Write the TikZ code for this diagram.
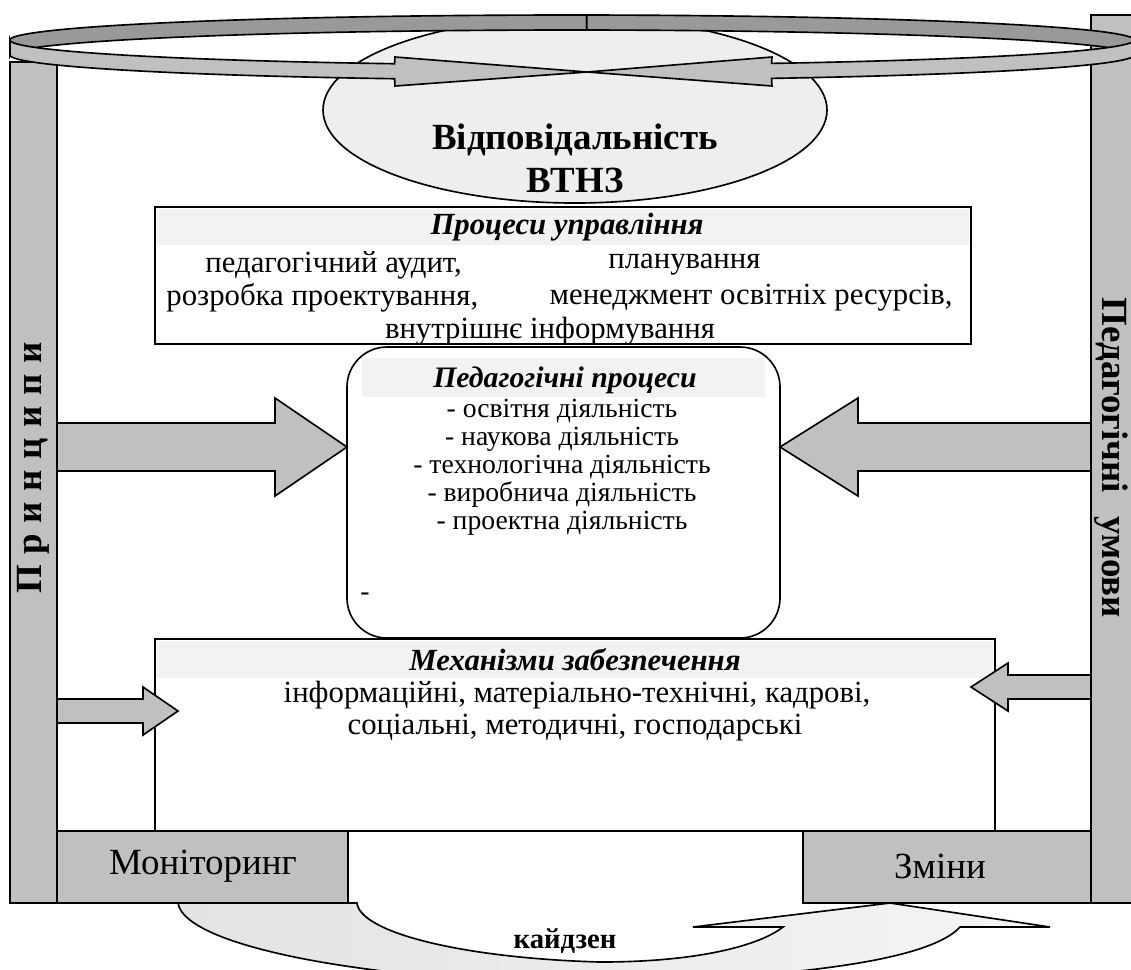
\documentclass[tikz,border=0pt]{standalone}
\usepackage{fontspec}
\setmainfont{Liberation Serif}
\definecolor{pillargray}{HTML}{C0C0C0}
\definecolor{ringdark}{HTML}{999999}
\definecolor{headgray}{HTML}{F2F2F2}
\definecolor{ovalgray}{HTML}{EEEEEE}
\newcommand\lsp{\kern5.2pt}
\begin{document}
\begin{tikzpicture}[x=0.4878pt, y=-0.4878pt,
  outline/.style={draw=black, line width=0.8pt, line join=miter},
  pillar/.style={outline, fill=pillargray},
  bigtxt/.style={font=\fontsize{18}{20}\selectfont\bfseries, inner sep=0pt},
  bodytxt/.style={font=\fontsize{15}{17}\selectfont, inner sep=0pt},
  smalltxt/.style={font=\fontsize{13.5}{15}\selectfont, inner sep=0pt},
  headtxt/.style={font=\fontsize{15}{17}\selectfont\bfseries\itshape, inner sep=0pt}]
\path[use as bounding box, clip] (0,0) rectangle (1131,969);
\draw[outline, fill=ovalgray] (575,110) ellipse [x radius=252, y radius=93];
\node[bigtxt] (resp) at (575,140) {Відповідальність};
\node[bigtxt] (vtnz) at (575,180) {ВТНЗ};
\draw[pillar] (1091,15) rectangle (1145,903);
\draw[pillar] (10,62) rectangle (57,903);
\draw[outline, fill=ringdark] plot[domain=180:271.5, samples=50] ({572+562*cos(\x)},{40+25*sin(\x)})
  -- plot[domain=271.5:180, samples=50] ({572+562*cos(\x)},{55+25*sin(\x)}) -- cycle;
\draw[outline, fill=ringdark] plot[domain=271.5:360, samples=50] ({572+562*cos(\x)},{40+25*sin(\x)})
  -- plot[domain=360:271.5, samples=50] ({572+562*cos(\x)},{55+25*sin(\x)}) -- cycle;
\draw[outline, fill=pillargray] plot[domain=180:108.4, samples=50] ({572+562*cos(\x)},{40+25*sin(\x)})
  -- (395,57) -- (587,72) -- (395,86)
  -- plot[domain=108.4:180, samples=50] ({572+562*cos(\x)},{55+25*sin(\x)}) -- cycle;
\draw[outline, fill=pillargray] plot[domain=0:69.2, samples=50] ({572+562*cos(\x)},{40+25*sin(\x)})
  -- (772,57) -- (587,72) -- (772,86)
  -- plot[domain=69.2:0, samples=50] ({572+562*cos(\x)},{55+25*sin(\x)}) -- cycle;
\draw[outline, fill=white] (155,207) rectangle (971,344);
\fill[headgray] (157,209) rectangle (969,245);
\node[headtxt] (mgmt) at (567,227) {Процеси управління};
\node[bodytxt, anchor=west] (audit) at (205,265) {педагогічний аудит,};
\node[bodytxt, anchor=west] (plan) at (608,265) {планування};
\node[bodytxt, anchor=west] (design) at (166,298) {розробка проектування,};
\node[bodytxt, anchor=east] (resources) at (953,298) {менеджмент освітніх ресурсів,};
\node[bodytxt] (inform) at (550,331) {внутрішнє інформування};
\draw[outline, fill=white, rounded corners=19.5pt] (347,347) rectangle (780,638);
\fill[headgray] (362,358) rectangle (765,397);
\node[headtxt, font=\fontsize{14.5}{16}\selectfont\bfseries\itshape] (pedproc) at (565,380) {Педагогічні процеси};
\node[smalltxt] (act1) at (562,411) {- освітня діяльність};
\node[smalltxt] (act2) at (562,439) {- наукова діяльність};
\node[smalltxt] (act3) at (562,467) {- технологічна діяльність};
\node[smalltxt] (act4) at (562,495) {- виробнича діяльність};
\node[smalltxt] (act5) at (562,523) {- проектна діяльність};
\node[smalltxt, anchor=west] (act6) at (360,597) {-};
\draw[outline, fill=white] (155,639) rectangle (995,831);
\fill[headgray] (157,641) rectangle (993,678);
\node[headtxt] (mech) at (575,660) {Механізми забезпечення};
\node[bodytxt] (mech1) at (577,695) {інформаційні, матеріально-технічні, кадрові,};
\node[bodytxt] (mech2) at (575,728) {соціальні, методичні, господарські};
\draw[pillar] (57,831) rectangle (348,903);
\node[bodytxt, font=\fontsize{18}{20}\selectfont] (monitor) at (203,866) {Моніторинг};
\draw[pillar] (803,831) rectangle (1091,903);
\node[bodytxt, font=\fontsize{18}{20}\selectfont] (change) at (940,866) {Зміни};
\node[bigtxt, rotate=90] (princ) at (33,468) {П\lsp р\lsp и\lsp н\lsp ц\lsp и\lsp п\lsp и};
\node[bigtxt, rotate=-90] (umovy) at (1111,458) {Педагогічні\hspace{7pt} умови};
\draw[pillar] (57,423) -- (275,423) -- (275,398) -- (347,447) -- (275,496) -- (275,471) -- (57,471) -- cycle;
\draw[pillar] (1091,423) -- (858,423) -- (858,398) -- (780,447) -- (858,496) -- (858,471) -- (1091,471) -- cycle;
\draw[pillar] (57,699) -- (143,699) -- (143,687) -- (178,711) -- (143,735) -- (143,723) -- (57,723) -- cycle;
\draw[pillar] (1091,675) -- (1008,675) -- (1008,663) -- (971,687) -- (1008,711) -- (1008,699) -- (1091,699) -- cycle;
\draw[outline, left color=black!11, right color=black!4]
  (178,903) -- (357,903) .. controls (360,932) and (460,958) .. (600,962)
  .. controls (700,962) and (760,945) .. (783,927)
  -- (693,927) -- (890,903) -- (1050,927) -- (960,927)
  .. controls (930,960) and (800,978) .. (600,982)
  .. controls (400,985) and (185,950) .. (178,903) -- cycle;
\node[bodytxt, font=\fontsize{14}{16}\selectfont\bfseries] (kaizen) at (565,941) {кайдзен};
\end{tikzpicture}
\end{document}
